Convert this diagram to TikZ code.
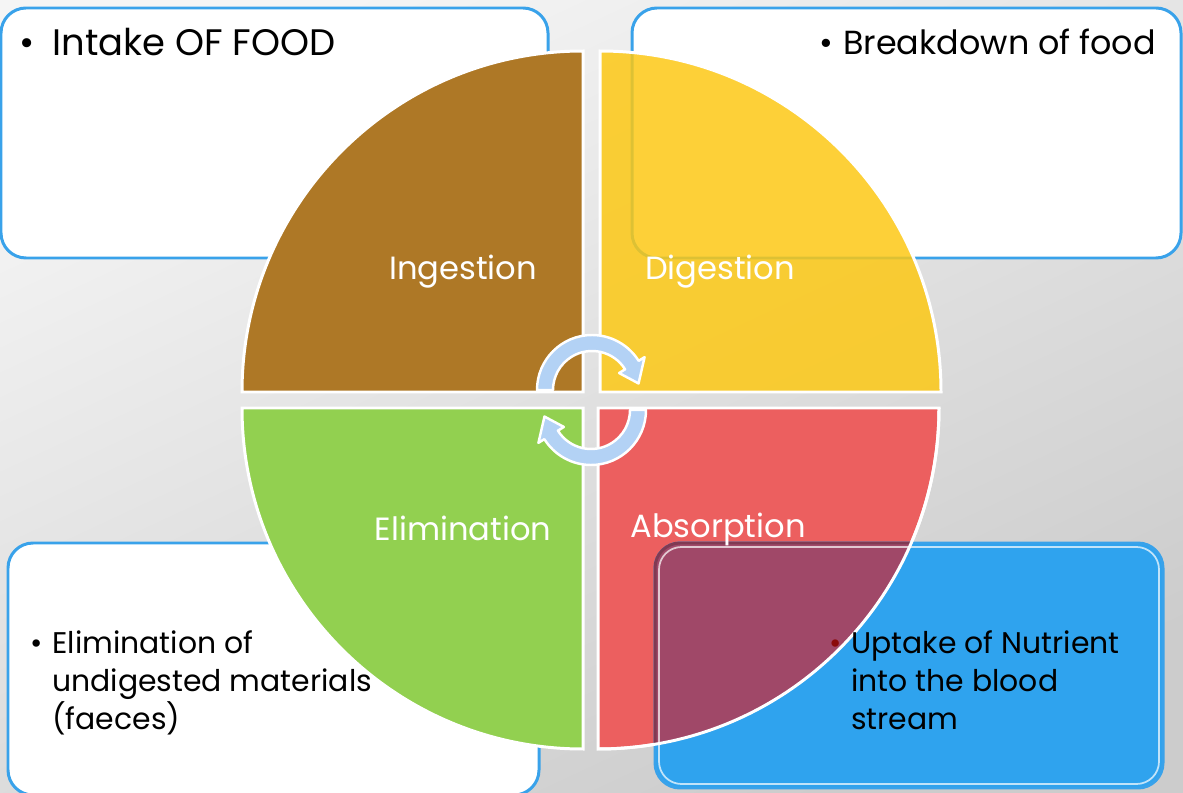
\documentclass[tikz,border=0pt]{standalone}
\usepackage{fontspec}
\setmainfont{Poppins}
\usetikzlibrary{positioning}

\definecolor{ingcol}{HTML}{AE7826}
\definecolor{digcol}{HTML}{FDC812}
\definecolor{elimcol}{HTML}{92D050}
\definecolor{abscol}{HTML}{EC5F5F}
\definecolor{mixcol}{HTML}{A04868}
\definecolor{boxblue}{HTML}{39A2EA}
\definecolor{fillblue}{HTML}{2FA3EE}
\definecolor{arrowblue}{HTML}{B3D2F5}
\definecolor{dotred}{HTML}{8B0A0A}

% bullet hanging left of the first line
\newcommand{\hangdot}[2][black]{\makebox[0pt][r]{\textcolor{#1}{•}\hspace{#2}}}

\tikzset{
  quarter/.style={draw=white, line width=1.7pt},
  notebox/.style={draw=boxblue, line width=1.7pt, rounded corners=0.5cm},
  cyclearrow/.style={fill=arrowblue, draw=white, line width=1.4pt, line join=round},
  stagelabel/.style={text=white, font=\fontsize{18.3}{22}\selectfont, inner sep=0pt},
  notetext/.style={text=black, align=left, inner sep=0pt,
    font=\fontsize{17}{21.8}\selectfont}
}

\begin{document}
\begin{tikzpicture}[x=0.02cm, y=0.02cm]
  \useasboundingbox (0,0) rectangle (1183,792);
  % backdrop
  \shade[top color=black!4, bottom color=black!20, shading angle=25]
    (0,0) rectangle (1183,792);

  % note boxes behind the wheel
  \filldraw[notebox, fill=white] (1,784) rectangle (548,534);
  \filldraw[notebox, fill=white] (632,784) rectangle (1181,534);
  \filldraw[notebox, fill=white] (8,249) rectangle (539,-3);

  % the four quarters
  \filldraw[quarter, fill=ingcol] (583,400) -- ++(-341,0)
    arc[start angle=180, end angle=90, radius=341] -- cycle;
  \filldraw[quarter, fill=digcol, fill opacity=0.84] (600,400) -- ++(0,341)
    arc[start angle=90, end angle=0, radius=341] -- cycle;
  \filldraw[quarter, fill=elimcol] (583,384) -- ++(0,-341)
    arc[start angle=270, end angle=180, radius=341] -- cycle;
  \filldraw[quarter, fill=abscol] (598,384) -- ++(341,0)
    arc[start angle=0, end angle=-90, radius=341] -- cycle;

  % blue note box over the absorption quarter
  \filldraw[notebox, fill=fillblue] (655,249) rectangle (1163,4);
  \begin{scope}
    \clip[rounded corners=0.5cm] (655,249) rectangle (1163,4);
    \fill[mixcol] (598,384) -- ++(341,0)
      arc[start angle=0, end angle=-90, radius=341] -- cycle;
  \end{scope}
  \begin{scope}
    \clip (598,384) -- ++(341,0)
      arc[start angle=0, end angle=-90, radius=341] -- cycle;
    \draw[notebox, draw=mixcol!80!black] (655,249) rectangle (1163,4);
  \end{scope}
  \draw[white, opacity=0.7, line width=1pt, rounded corners=0.45cm]
    (659,245) rectangle (1159,8);
  \draw[quarter] (939,384) arc[start angle=0, end angle=-90, radius=341];

  % cycle arrows in the middle
  \filldraw[cyclearrow, shift={(592,402)}]
    (180:55) arc[start angle=180, end angle=32, radius=55]
    -- (32:62) -- (8:47) -- (32:32) -- (32:39)
    arc[start angle=32, end angle=180, radius=39] -- cycle;
  \filldraw[cyclearrow, shift={(591,382)}, rotate=180]
    (180:55) arc[start angle=180, end angle=32, radius=55]
    -- (32:62) -- (8:47) -- (32:32) -- (32:39)
    arc[start angle=32, end angle=180, radius=39] -- cycle;

  % stage names
  \node[stagelabel] (ingestion) at (463,520) {Ingestion};
  \node[stagelabel] (digestion) at (720,520) {Digestion};
  \node[stagelabel] (elimination) at (463,264) {Elimination};
  \node[stagelabel] (absorption) at (718,263) {Absorption};

  % notes
  \node[notetext, anchor=base west, font=\fontsize{21}{24}\selectfont]
    (intake) at (52,736) {\hangdot{0.36cm}Intake OF FOOD};
  \node[notetext, anchor=base west, font=\fontsize{19}{22}\selectfont]
    (breakdown) at (843,737) {\hangdot{0.2cm}Breakdown of food};
  \node[notetext, anchor=north west] (elimnote) at (52,162)
    {\hangdot{0.2cm}Elimination of\\undigested materials\\(faeces)};
  \node[notetext, anchor=north west] (uptake) at (851,162)
    {\hangdot[dotred]{0.2cm}Uptake of Nutrient\\into the blood\\stream};
\end{tikzpicture}
\end{document}
